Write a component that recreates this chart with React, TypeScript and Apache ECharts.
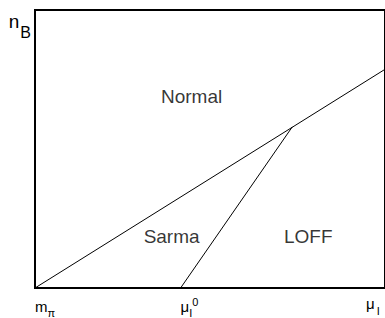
import React, { useEffect, useRef } from "react";
import * as echarts from "echarts";

// Phase-boundary lines (x: isospin chemical potential units, y: baryon density units)
const normalBoundaryX = [0, 350];
const normalBoundaryY = [0, 222];
const sarmaBoundaryX = [146, 258];
const sarmaBoundaryY = [0, 164];

// Region labels
const regionNames = ["Normal", "Sarma", "LOFF"];
const regionX = [157, 137, 274];
const regionY = [195, 52, 52];

// Axis tick labels
const tickValues = [0, 146];
const tickLabels = ["{b|m}{sub|π}", "{b|μ}{sub|I}{sup|0}"];

const FONT = "'Liberation Sans', Arial, Helvetica, sans-serif";
const C = "#000";

const richStyle = {
  b: { fontSize: 15, fontFamily: FONT, color: C, lineHeight: 16, padding: [9, 0, 0, 0], verticalAlign: "top" },
  sub: { fontSize: 11, fontFamily: FONT, color: C, lineHeight: 12, padding: [17, 0, 0, 0], verticalAlign: "top" },
  sup: { fontSize: 11, fontFamily: FONT, color: C, lineHeight: 12, padding: [6, 0, 0, 0], verticalAlign: "top" },
  bn: { fontSize: 15, fontFamily: FONT, color: C, lineHeight: 16, verticalAlign: "top" },
  subn: { fontSize: 11, fontFamily: FONT, color: C, lineHeight: 12, padding: [9, 0, 0, 2], verticalAlign: "top" },
  n: { fontSize: 19, fontFamily: FONT, color: C, lineHeight: 20, verticalAlign: "top" },
  nb: { fontSize: 16, fontFamily: FONT, color: C, lineHeight: 16, padding: [12, 0, 0, 1], verticalAlign: "top" },
};

export default function App() {
  const ref = useRef<HTMLDivElement>(null);
  useEffect(() => {
    if (!ref.current) return;
    const chart = echarts.init(ref.current, null, { renderer: "svg" });
    chart.setOption({
      animation: false,
      grid: {
        left: 35,
        right: -1,
        top: 10,
        bottom: 25,
        show: true,
        borderColor: "#000",
        borderWidth: 2,
        backgroundColor: "transparent",
      },
      xAxis: {
        type: "value",
        min: 0,
        max: 351,
        axisLine: { show: false },
        axisTick: { show: false },
        splitLine: { show: false },
        axisLabel: {
          customValues: tickValues,
          formatter: (v: number) => tickLabels[tickValues.indexOf(v)] ?? "",
          rich: richStyle,
          align: "left",
          margin: 2,
        },
        name: "{bn|μ}{subn|I}",
        nameLocation: "end",
        nameGap: -19,
        nameTextStyle: {
          rich: richStyle,
          align: "left",
          verticalAlign: "top",
          padding: [8, 0, 0, 0],
        },
      },
      yAxis: {
        type: "value",
        min: 0,
        max: 283,
        axisLine: { show: false },
        axisTick: { show: false },
        splitLine: { show: false },
        axisLabel: { show: false },
        name: "{n|n}{nb|B}",
        nameLocation: "end",
        nameGap: -2,
        nameTextStyle: {
          rich: richStyle,
          align: "right",
          verticalAlign: "top",
          padding: [0, 4, 0, 0],
        },
      },
      series: [
        {
          type: "line",
          data: normalBoundaryX.map((x, i) => [x, normalBoundaryY[i]]),
          showSymbol: false,
          lineStyle: { color: "#000", width: 1 },
          silent: true,
        },
        {
          type: "line",
          data: sarmaBoundaryX.map((x, i) => [x, sarmaBoundaryY[i]]),
          showSymbol: false,
          lineStyle: { color: "#000", width: 1 },
          silent: true,
        },
        {
          type: "scatter",
          symbolSize: 1,
          itemStyle: { color: "transparent" },
          data: regionNames.map((n, i) => ({ name: n, value: [regionX[i], regionY[i]] })),
          label: {
            show: true,
            position: "inside",
            formatter: (p: any) => p.name,
            fontSize: 19,
            fontFamily: FONT,
            color: C,
          },
          silent: true,
        },
      ],
    });
    return () => chart.dispose();
  }, []);
  return <div ref={ref} style={{ width: 385, height: 318, position: "absolute", left: 0, top: 0 }} />;
}
